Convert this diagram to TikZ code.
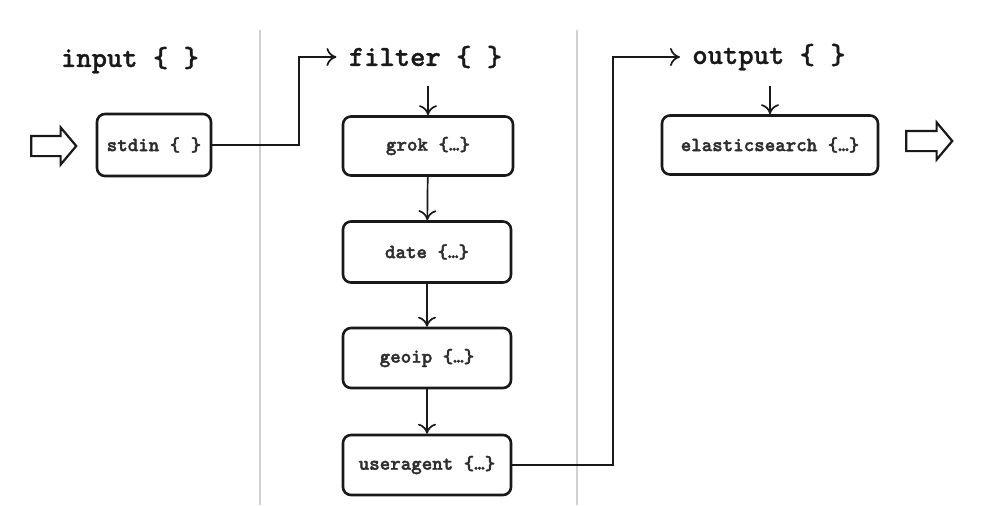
\documentclass[tikz,border=0pt]{standalone}
\usepackage{fontspec}
\newfontfamily\courbf{lmmonolt10-bold.otf}[FakeBold=1]
\newfontfamily\courbox{lmmonolt10-bold.otf}[FakeBold=1.8]
\usetikzlibrary{arrows.meta,shapes.arrows,calc}
\begin{document}
\begin{tikzpicture}[x=0.5pt,y=-0.5pt,
  title/.style={font=\courbf\fontsize{14.6pt}{16pt}\selectfont, inner sep=0pt, text=black!90},
  stagebox/.style={draw=black!90, line width=1.3pt, rounded corners=4pt,
     font=\courbox\fontsize{10pt}{11pt}\selectfont, text=black!82, inner sep=0pt},
  flow/.style={draw=black!90, line width=0.85pt, -{To[length=5pt,width=9pt,line width=0.85pt]}},
  hollow/.style={single arrow, draw=black!90, line width=1.1pt, fill=white, inner xsep=0pt, inner ysep=4.5pt,
     single arrow head extend=4.25pt, single arrow tip angle=100},
  divider/.style={draw=black!18, line width=0.9pt}
]
\useasboundingbox (0,0) rectangle (1001,505);
\fill[white] (0,0) rectangle (1001,505);

% dividers
\draw[divider] (260,30) -- (260,505);
\draw[divider] (577,30) -- (577,505);

% titles
\node[title] (input) at (130,60) {input \{ \}};
\node[title] (filter) at (425.5,57) {filter \{ \}};
\node[title] (output) at (769,57) {output \{ \}};

% boxes
\node[stagebox, minimum width=57pt, minimum height=31pt] (stdin) at (154,145) {stdin \{ \}};
\node[stagebox, minimum width=85pt, minimum height=29.5pt] (grok) at (428,146) {grok \{…\}};
\node[stagebox, minimum width=84pt, minimum height=30.5pt] (date) at (427,252) {date \{…\}};
\node[stagebox, minimum width=84pt, minimum height=30pt] (geoip) at (427,358) {geoip \{…\}};
\node[stagebox, minimum width=84pt, minimum height=30pt] (useragent) at (427,465) {useragent \{…\}};
\node[stagebox, minimum width=108pt, minimum height=29.5pt] (elastic) at (770,145) {elasticsearch \{…\}};

% hollow arrows
\node[hollow, minimum width=17.5pt, minimum height=22.5pt] (inarrow) at (49.5,146) {};
\node[hollow, minimum width=16.5pt, minimum height=23pt] (outarrow) at (925,141) {};

% connectors
\draw[flow, shorten >=6pt] (stdin.east) -- ++(87,0) |- (filter.west);
\draw[flow] ($(grok.north |- filter.center)+(0,29)$) -- (grok.north);
\draw[flow] (grok) -- (date);
\draw[flow] (date) -- (geoip);
\draw[flow] (geoip) -- (useragent);
\draw[flow, shorten >=6pt] (useragent.east) -- ++(101,0) |- (output.west);
\draw[flow] ($(elastic.north |- output.center)+(0,29)$) -- (elastic.north);
\end{tikzpicture}
\end{document}
